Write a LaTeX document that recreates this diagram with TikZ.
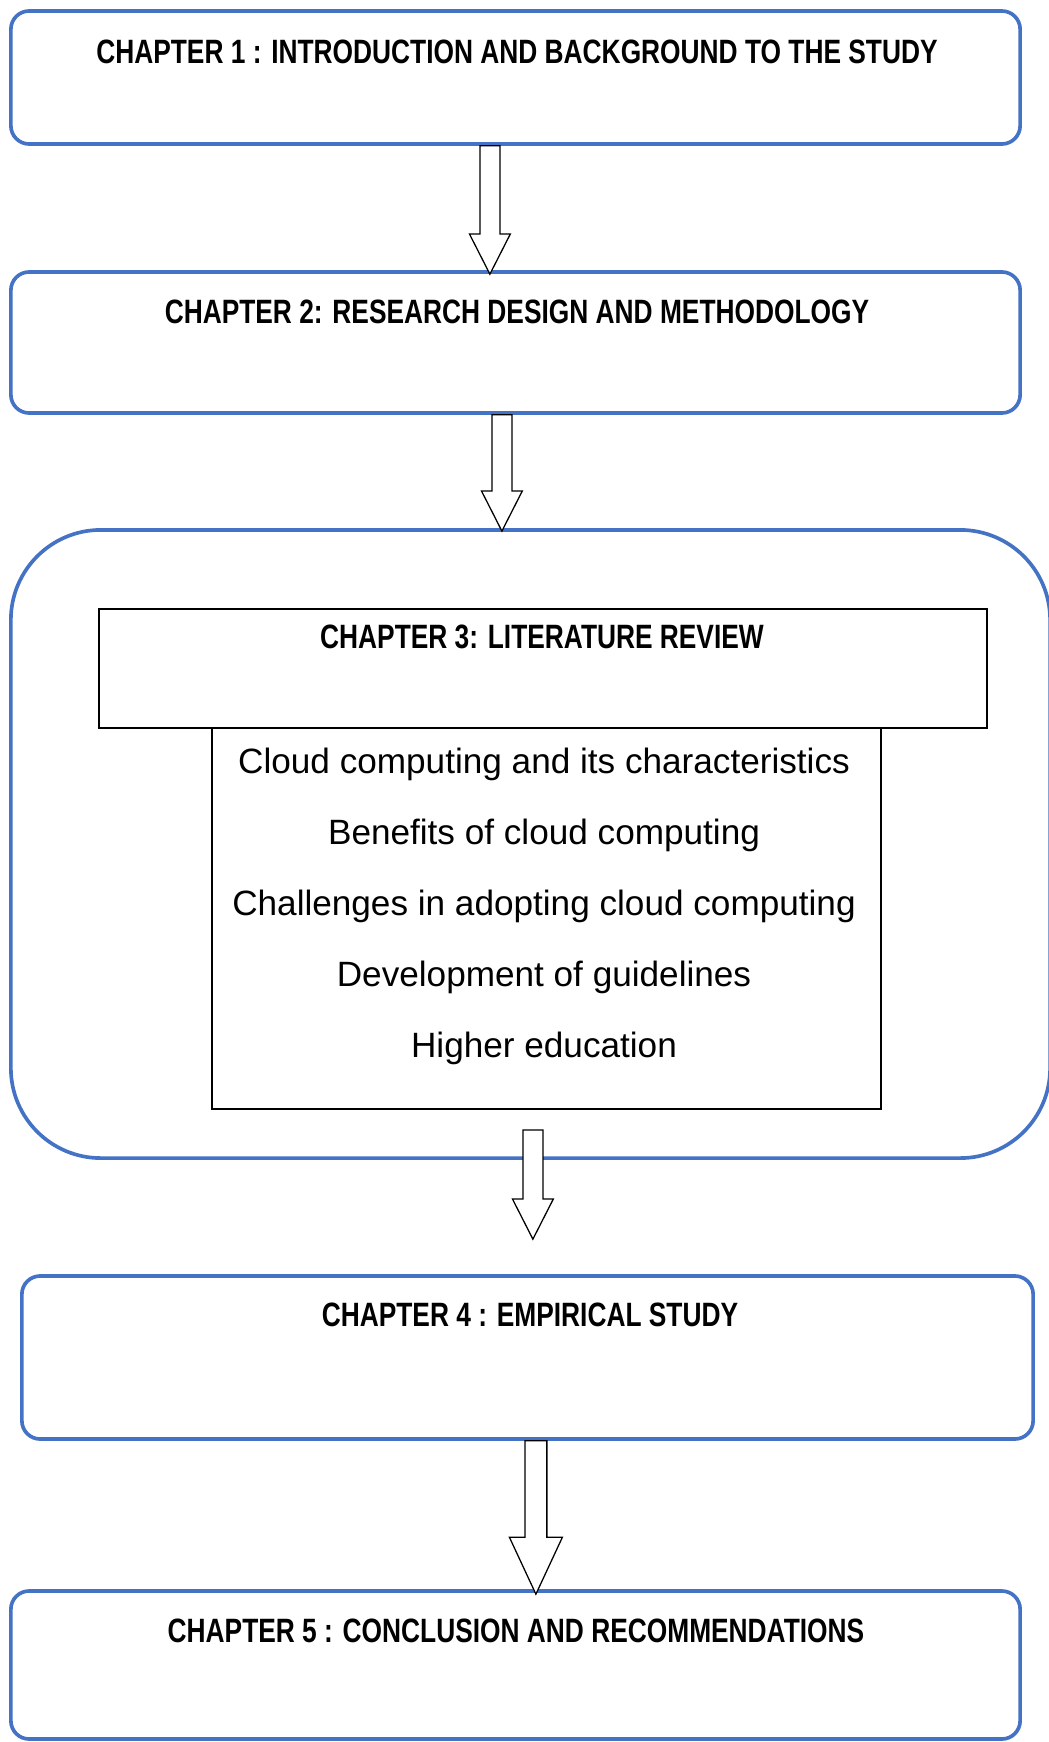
\documentclass[tikz,border=0pt]{standalone}
\usepackage{fontspec}
\setmainfont{Liberation Sans}
\newfontfamily\narrowfont[FakeStretch=0.78]{Liberation Sans}
\usepackage{tikz}
\usetikzlibrary{calc}
\definecolor{chapblue}{HTML}{4472C4}
\newcommand{\shaftw}{7.1pt}
\newcommand{\headw}{14.5pt}
\newcommand{\headl}{28.5pt}
\tikzstyle{chapter} = [rectangle, rounded corners=13pt, draw=chapblue, line width=2.6pt]
\tikzstyle{title} = [font=\narrowfont\bfseries\fontsize{24}{28}\selectfont, inner sep=0pt]
\tikzstyle{topic} = [font=\fontsize{25}{30}\selectfont, inner sep=0pt, text height=0.72em, text depth=0.21em]
\tikzstyle{box} = [rectangle, draw, line width=1.2pt]
\tikzstyle{arrow} = [draw, fill=white, line width=0.9pt, to path={let \p1=(\tikztostart), \p2=(\tikztotarget) in
  (\x1-\shaftw,\y1) -- (\x1+\shaftw,\y1) -- (\x1+\shaftw,\y2+\headl) -- (\x1+\headw,\y2+\headl)
  -- (\x1,\y2) -- (\x1-\headw,\y2+\headl) -- (\x1-\shaftw,\y2+\headl) -- cycle}]
\tikzstyle{bigarrow} = [arrow, /utils/exec={\renewcommand{\shaftw}{7.8pt}\renewcommand{\headw}{18.8pt}\renewcommand{\headl}{40.4pt}}]

\begin{document}
\begin{tikzpicture}[x=0.025cm, y=-0.025cm, node distance=1.775cm]
  \useasboundingbox (0,0) rectangle (1048,1742);

  % chapter boxes
  \node (ch1) [chapter, minimum width=25.225cm, minimum height=3.325cm] at (515.5,77.5) {};
  \node (ch2) [chapter, minimum width=25.225cm, minimum height=3.525cm] at (515.5,342.5) {};
  \node (ch3) [chapter, rounded corners=64pt, minimum width=25.975cm, minimum height=15.7cm] at (530.5,844) {};
  \node (ch4) [chapter, minimum width=25.275cm, minimum height=4.075cm] at (527.5,1357.5) {};
  \node (ch5) [chapter, minimum width=25.225cm, minimum height=3.7cm] at (515.5,1665) {};

  % literature review
  \node (rev) [box, minimum width=22.2cm, minimum height=2.975cm] at (543,668.5) {};
  \node (lst) [box, minimum width=16.725cm, minimum height=9.525cm] at (546.5,918.5) {};

  \node (t1) [title] at (517,52) {CHAPTER 1 : INTRODUCTION AND BACKGROUND TO THE STUDY};
  \node (t2) [title] at (517,312) {CHAPTER 2: RESEARCH DESIGN AND METHODOLOGY};
  \node (t3) [title] at (542,637) {CHAPTER 3: LITERATURE REVIEW};
  \node (t4) [title] at (530,1315) {CHAPTER 4 : EMPIRICAL STUDY};
  \node (t5) [title] at (516,1631) {CHAPTER 5 : CONCLUSION AND RECOMMENDATIONS};

  \node (i1) [topic] at (544,770) {Cloud computing and its characteristics};
  \node (i2) [topic, below of=i1] {Benefits of cloud computing};
  \node (i3) [topic, below of=i2] {Challenges in adopting cloud computing};
  \node (i4) [topic, below of=i3] {Development of guidelines};
  \node (i5) [topic, below of=i4] {Higher education};

  \draw [arrow] ([xshift=-0.64cm]ch1.south) to ([xshift=-0.64cm, yshift=-0.1cm]ch2.north);
  \draw [arrow] ([xshift=-0.34cm]ch2.south) to ([xshift=-0.71cm, yshift=-0.075cm]ch3.north);
  \draw [arrow] ([xshift=-0.34cm, yshift=-0.5cm]lst.south) to ([xshift=0.14cm, yshift=0.875cm]ch4.north);
  \draw [bigarrow] ([xshift=0.21cm]ch4.south) to ([xshift=0.51cm, yshift=-0.125cm]ch5.north);
\end{tikzpicture}
\end{document}
